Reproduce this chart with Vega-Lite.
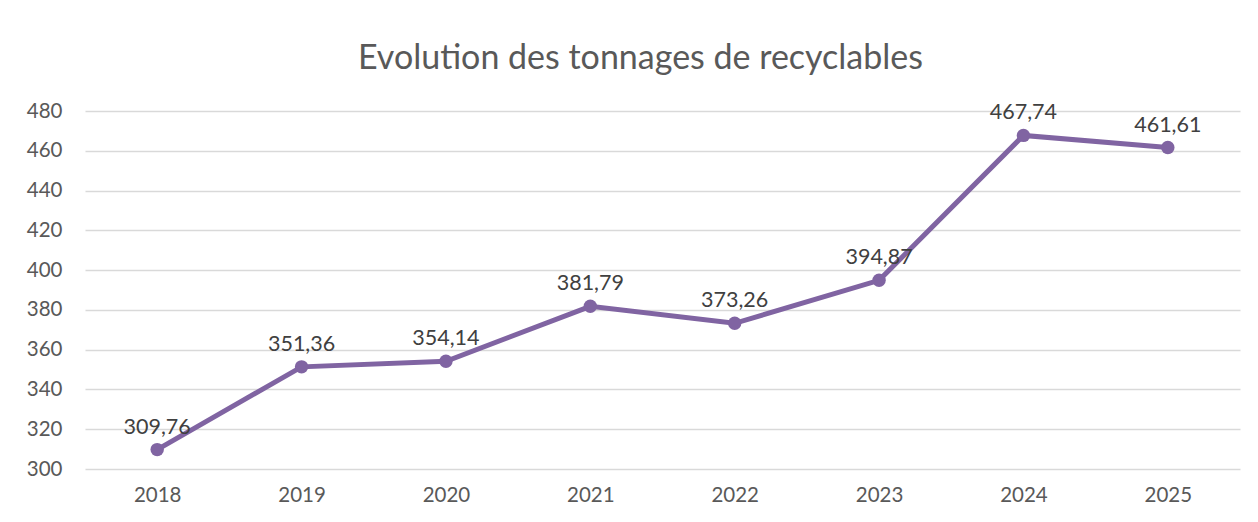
{
  "$schema": "https://vega.github.io/schema/vega-lite/v6.json",
  "width": 1155,
  "height": 358,
  "autosize": "none",
  "padding": {"left": 85, "top": 111, "right": 18, "bottom": 53},
  "background": "white",
  "config": {
    "locale": {"number": {"decimal": ",", "thousands": " ", "grouping": [3], "currency": ["", " €"]}},
    "view": {"stroke": null},
    "font": "Lato"
  },
  "title": {
    "text": "Evolution des tonnages de recyclables",
    "font": "Lato",
    "fontSize": 34,
    "fontWeight": "normal",
    "color": "#595959",
    "anchor": "middle",
    "frame": "group",
    "dx": -22,
    "offset": 25
  },
  "data": {
    "values": [
      {"annee": "2018", "tonnage": 309.76},
      {"annee": "2019", "tonnage": 351.36},
      {"annee": "2020", "tonnage": 354.14},
      {"annee": "2021", "tonnage": 381.79},
      {"annee": "2022", "tonnage": 373.26},
      {"annee": "2023", "tonnage": 394.87},
      {"annee": "2024", "tonnage": 467.74},
      {"annee": "2025", "tonnage": 461.61}
    ]
  },
  "encoding": {
    "x": {
      "field": "annee", "type": "ordinal", "title": null,
      "scale": {"type": "point", "padding": 0.5},
      "axis": {"labelAngle": 0, "domain": false, "ticks": false, "labelPadding": 16, "labelFontSize": 20.5, "labelColor": "#595959", "labelFont": "Lato", "grid": false}
    },
    "y": {
      "field": "tonnage", "type": "quantitative", "title": null,
      "scale": {"domain": [300, 480], "nice": false, "zero": false},
      "axis": {"values": [300, 320, 340, 360, 380, 400, 420, 440, 460, 480], "format": "d", "domain": false, "ticks": false, "labelPadding": 23, "labelFontSize": 20.5, "labelColor": "#595959", "labelFont": "Lato", "gridColor": "#d9d9d9", "gridWidth": 1.5}
    }
  },
  "layer": [
    {"mark": {"type": "line", "color": "#8064A2", "strokeWidth": 5}},
    {"mark": {"type": "point", "filled": true, "color": "#8064A2", "size": 180, "opacity": 1}},
    {
      "mark": {"type": "text", "baseline": "bottom", "dy": -11, "fontSize": 21.5, "color": "#404040", "font": "Lato"},
      "encoding": {"text": {"field": "tonnage", "type": "quantitative", "format": ".2f"}}
    }
  ]
}
